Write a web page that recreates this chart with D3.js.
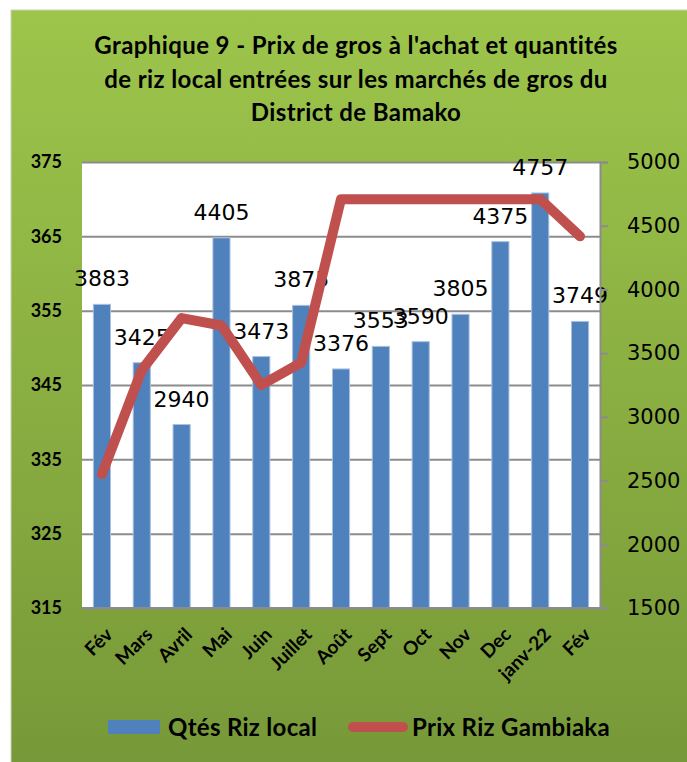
<!DOCTYPE html>
<html>
<head>
<meta charset="utf-8">
<script src="https://cdn.jsdelivr.net/npm/d3@7"></script>
<style>
  body { margin: 0; background: #fff; }
  svg { display: block; }
</style>
</head>
<body>
<svg id="chart" width="687" height="762"></svg>
<script>
// data
var months = ['Fév', 'Mars', 'Avril', 'Mai', 'Juin', 'Juillet', 'Août', 'Sept', 'Oct', 'Nov', 'Dec', 'janv-22', 'Fév'];
var qtesRizLocal = [3883, 3425, 2940, 4405, 3473, 3875, 3376, 3553, 3590, 3805, 4375, 4757, 3749];
var prixGambiaka = [333, 347, 354, 353, 345, 348, 370, 370, 370, 370, 370, 370, 365];
var leftTicks = [315, 325, 335, 345, 355, 365, 375];
var rightTicks = [1500, 2000, 2500, 3000, 3500, 4000, 4500, 5000];
var titleLines = [
  "Graphique 9 - Prix de gros à l'achat et quantités",
  "de riz local entrées sur les marchés de gros du",
  "District de Bamako"
];
var seriesNames = ['Qtés Riz local', 'Prix Riz Gambiaka'];

var svg = d3.select('#chart');
var plot = { left: 82, right: 600, top: 162, bottom: 608 };
var boldFont = 'Lato, "Open Sans", sans-serif';
var numFont = '"DejaVu Sans", sans-serif';

// green background with vertical gradient
var grad = svg.append('defs').append('linearGradient')
  .attr('id', 'bg').attr('x1', 0).attr('y1', 0).attr('x2', 0).attr('y2', 1);
grad.append('stop').attr('offset', '0%').attr('stop-color', '#9dc54b');
grad.append('stop').attr('offset', '100%').attr('stop-color', '#779838');

svg.append('rect')
  .attr('x', 11).attr('y', 10).attr('width', 680).attr('height', 760)
  .attr('fill', 'url(#bg)')
  .attr('stroke', '#c9d3bb').attr('stroke-width', 1);

// title
svg.append('g').selectAll('text')
  .data(titleLines)
  .enter().append('text')
  .attr('x', 356)
  .attr('y', function (d, i) { return 54 + i * 33.5; })
  .attr('text-anchor', 'middle')
  .style('font-family', boldFont)
  .style('font-weight', 'bold')
  .style('font-size', '24px')
  .style('letter-spacing', '0.4px')
  .attr('fill', '#000')
  .text(function (d) { return d; });

// scales
var x = d3.scaleBand()
  .domain(d3.range(months.length))
  .range([plot.left, plot.right])
  .paddingInner(0.57)
  .paddingOuter(0.285);

var yLeft = d3.scaleLinear().domain([315, 375]).range([plot.bottom, plot.top]);
var yRight = d3.scaleLinear().domain([1500, 5000]).range([plot.bottom, plot.top]);

// plot area
svg.append('rect')
  .attr('x', plot.left).attr('y', plot.top)
  .attr('width', plot.right - plot.left).attr('height', plot.bottom - plot.top)
  .attr('fill', '#fff');

// gridlines on the left axis ticks
svg.append('g')
  .attr('class', 'grid')
  .attr('transform', 'translate(' + plot.left + ',0)')
  .call(d3.axisLeft(yLeft).tickValues(leftTicks).tickSize(-(plot.right - plot.left)).tickFormat(''))
  .call(function (g) { g.select('.domain').remove(); })
  .selectAll('line')
  .attr('stroke', '#8c8c8c')
  .attr('stroke-width', 2);

// bars
svg.append('g').selectAll('rect')
  .data(qtesRizLocal)
  .enter().append('rect')
  .attr('x', function (d, i) { return x(i); })
  .attr('y', function (d) { return yRight(d); })
  .attr('width', x.bandwidth())
  .attr('height', function (d) { return plot.bottom - yRight(d); })
  .attr('fill', '#4f81bd')
  .attr('stroke', '#a9c1e0')
  .attr('stroke-width', 1);

// bar value labels
svg.append('g').selectAll('text')
  .data(qtesRizLocal)
  .enter().append('text')
  .attr('x', function (d, i) { return x(i) + x.bandwidth() / 2; })
  .attr('y', function (d) { return yRight(d) - 18; })
  .attr('text-anchor', 'middle')
  .style('font-family', numFont)
  .style('font-size', '22px')
  .attr('fill', '#000')
  .text(function (d) { return d; });

// price line
var line = d3.line()
  .x(function (d, i) { return x(i) + x.bandwidth() / 2; })
  .y(function (d) { return yLeft(d); });

svg.append('path')
  .datum(prixGambiaka)
  .attr('d', line)
  .attr('fill', 'none')
  .attr('stroke', '#c0504d')
  .attr('stroke-width', 10)
  .attr('stroke-linejoin', 'round')
  .attr('stroke-linecap', 'round');

// bottom axis line
svg.append('line')
  .attr('x1', plot.left).attr('x2', plot.right + 8)
  .attr('y1', plot.bottom).attr('y2', plot.bottom)
  .attr('stroke', '#8c8c8c').attr('stroke-width', 2);

// left axis (labels only)
var leftAxis = svg.append('g')
  .attr('transform', 'translate(' + plot.left + ',0)')
  .call(d3.axisLeft(yLeft).tickValues(leftTicks).tickSize(0).tickPadding(20));
leftAxis.select('.domain').remove();
leftAxis.selectAll('text')
  .style('font-family', boldFont)
  .style('font-weight', 'bold')
  .style('font-size', '18px')
  .attr('fill', '#000');

// right axis
var rightAxis = svg.append('g')
  .attr('transform', 'translate(' + plot.right + ',0)')
  .call(d3.axisRight(yRight).tickValues(rightTicks).tickSize(8).tickPadding(19).tickFormat(d3.format('d')));
rightAxis.select('.domain').attr('stroke', '#8c8c8c').attr('stroke-width', 2);
rightAxis.selectAll('line').attr('stroke', '#8c8c8c').attr('stroke-width', 2);
rightAxis.selectAll('text')
  .style('font-family', numFont)
  .style('font-size', '21px')
  .attr('fill', '#000');

// category labels, rotated
var xAxis = svg.append('g')
  .attr('transform', 'translate(0,' + plot.bottom + ')')
  .call(d3.axisBottom(x).tickSize(0).tickFormat(function (i) { return months[i]; }));
xAxis.select('.domain').remove();
xAxis.selectAll('text')
  .attr('text-anchor', 'end')
  .attr('dy', '0.35em')
  .attr('transform', 'translate(5,21) rotate(-45)')
  .style('font-family', boldFont)
  .style('font-weight', 'bold')
  .style('font-size', '19px')
  .attr('fill', '#000');

// legend
var legend = svg.append('g');
legend.append('rect')
  .attr('x', 108).attr('y', 720).attr('width', 52).attr('height', 14)
  .attr('fill', '#4f81bd');
legend.append('line')
  .attr('x1', 353).attr('x2', 403).attr('y1', 727).attr('y2', 727)
  .attr('stroke', '#c0504d').attr('stroke-width', 10).attr('stroke-linecap', 'round');
legend.selectAll('text')
  .data(seriesNames)
  .enter().append('text')
  .attr('x', function (d, i) { return i === 0 ? 168 : 412; })
  .attr('y', 736)
  .style('font-family', boldFont)
  .style('font-weight', 'bold')
  .style('font-size', '24px')
  .style('letter-spacing', '0.3px')
  .attr('fill', '#000')
  .text(function (d) { return d; });
</script>
</body>
</html>
